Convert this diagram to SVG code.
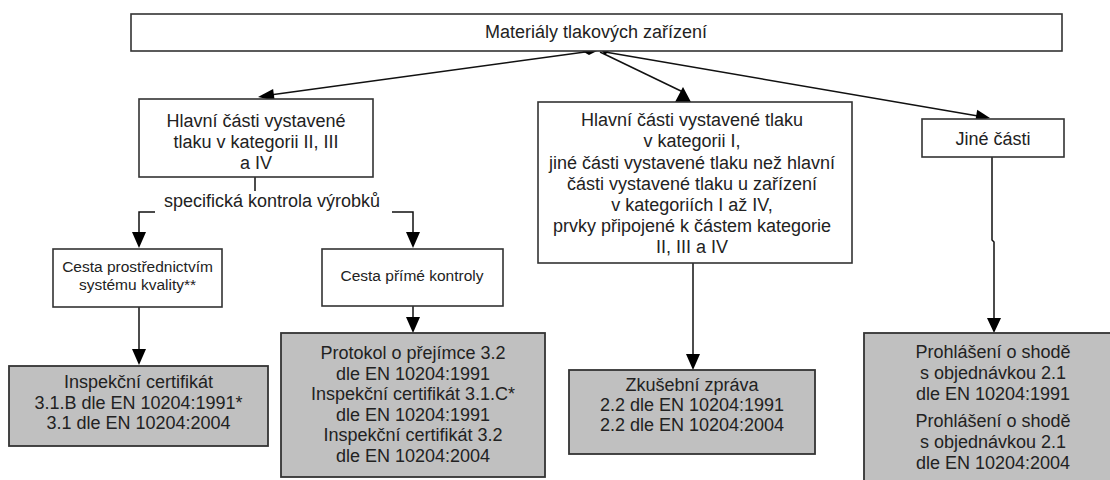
<svg xmlns="http://www.w3.org/2000/svg" width="1110" height="480" viewBox="0 0 1110 480">
<style>
text{font-family:"Liberation Sans",Arial,sans-serif;fill:#222;text-anchor:middle;font-size:18px}
.s{font-size:15.5px}
.box{fill:#fff;stroke:#333;stroke-width:1.6}
.gray{fill:#c0c0c0;stroke:#333;stroke-width:1.8}
.ln{stroke:#111;stroke-width:1.5;fill:none}
.ah{fill:#000}
</style>
<rect width="1110" height="480" fill="#fff"/>
<g id="connectors">
<line class="ln" x1="585" y1="52" x2="270" y2="95"/>
<polygon class="ah" points="258,97 274.7,100.7 273.1,88.9"/>
<line class="ln" x1="600" y1="52" x2="683" y2="92"/>
<polygon class="ah" points="683,87 675,102 691,102"/>
<line class="ln" x1="605" y1="52" x2="978" y2="116"/>
<polygon class="ah" points="990,118 975.2,121.6 977.2,109.8"/>
<polygon class="ah" points="582,51 597,51 589,55"/>
<polygon class="ah" points="602,51 609,51 605,55"/>
<line class="ln" x1="255" y1="177" x2="255" y2="191"/>
<polyline class="ln" points="155,212 139,212 139,233"/>
<polyline class="ln" points="392,212 413,212 413,233"/>
<polygon class="ah" points="132,232 146,232 139,248"/>
<polygon class="ah" points="406,232 420,232 413,248"/>
<line class="ln" x1="139" y1="307" x2="139" y2="350"/>
<polygon class="ah" points="132,349 146,349 139,365"/>
<line class="ln" x1="413" y1="306" x2="413" y2="318"/>
<polygon class="ah" points="406,317 420,317 413,333"/>
<line class="ln" x1="693" y1="263" x2="693" y2="355"/>
<polygon class="ah" points="686,354 700,354 693,370"/>
<polyline class="ln" points="992,157 992,240 994,242 994,320"/>
<polygon class="ah" points="987,318 1001,318 994,333"/>
</g>
<g id="n-root">
<rect class="box" x="131" y="14" width="931" height="37"/>
<text x="596" y="38">Materiály tlakových zařízení</text>
</g>
<g id="n-main">
<rect class="box" x="139" y="99" width="234" height="78"/>
<text x="256" y="127">Hlavní části vystavené</text>
<text x="256" y="148">tlaku v kategorii II, III</text>
<text x="256" y="169">a IV</text>
</g>
<g id="n-label">
<text x="272" y="207">specifická kontrola výrobků</text>
</g>
<g id="n-middle">
<rect class="box" x="538" y="102" width="314" height="161"/>
<text x="692" y="126">Hlavní části vystavené tlaku</text>
<text x="692" y="147">v kategorii I,</text>
<text x="692" y="169">jiné části vystavené tlaku než hlavní</text>
<text x="692" y="190">části vystavené tlaku u zařízení</text>
<text x="692" y="211">v kategoriích I až IV,</text>
<text x="692" y="232">prvky připojené k částem kategorie</text>
<text x="692" y="253">II, III a IV</text>
</g>
<g id="n-other">
<rect class="box" x="922" y="119" width="142" height="38"/>
<text x="993" y="145">Jiné části</text>
</g>
<g id="n-quality">
<rect class="box" x="53" y="249" width="169" height="58"/>
<text class="s" x="137.5" y="272">Cesta prostřednictvím</text>
<text class="s" x="137.5" y="290">systému kvality**</text>
</g>
<g id="n-direct">
<rect class="box" x="322" y="249" width="181" height="57"/>
<text class="s" x="412" y="281">Cesta přímé kontroly</text>
</g>
<g id="n-cert31">
<rect class="gray" x="9" y="366" width="259" height="80"/>
<text x="138.5" y="388">Inspekční certifikát</text>
<text x="138.5" y="409">3.1.B dle EN 10204:1991*</text>
<text x="138.5" y="429">3.1 dle EN 10204:2004</text>
</g>
<g id="n-cert32">
<rect class="gray" x="281" y="333" width="264" height="144"/>
<text x="413" y="359">Protokol o přejímce 3.2</text>
<text x="413" y="380">dle EN 10204:1991</text>
<text x="413" y="400">Inspekční certifikát 3.1.C*</text>
<text x="413" y="421">dle EN 10204:1991</text>
<text x="413" y="441">Inspekční certifikát 3.2</text>
<text x="413" y="462">dle EN 10204:2004</text>
</g>
<g id="n-test">
<rect class="gray" x="569" y="370" width="246" height="84"/>
<text x="692" y="391">Zkušební zpráva</text>
<text x="692" y="411">2.2 dle EN 10204:1991</text>
<text x="692" y="431">2.2 dle EN 10204:2004</text>
</g>
<g id="n-decl">
<rect class="gray" x="864" y="333" width="260" height="150"/>
<text x="993" y="358">Prohlášení o shodě</text>
<text x="993" y="379">s objednávkou 2.1</text>
<text x="993" y="400">dle EN 10204:1991</text>
<text x="993" y="427">Prohlášení o shodě</text>
<text x="993" y="448">s objednávkou 2.1</text>
<text x="993" y="469">dle EN 10204:2004</text>
</g>
</svg>
